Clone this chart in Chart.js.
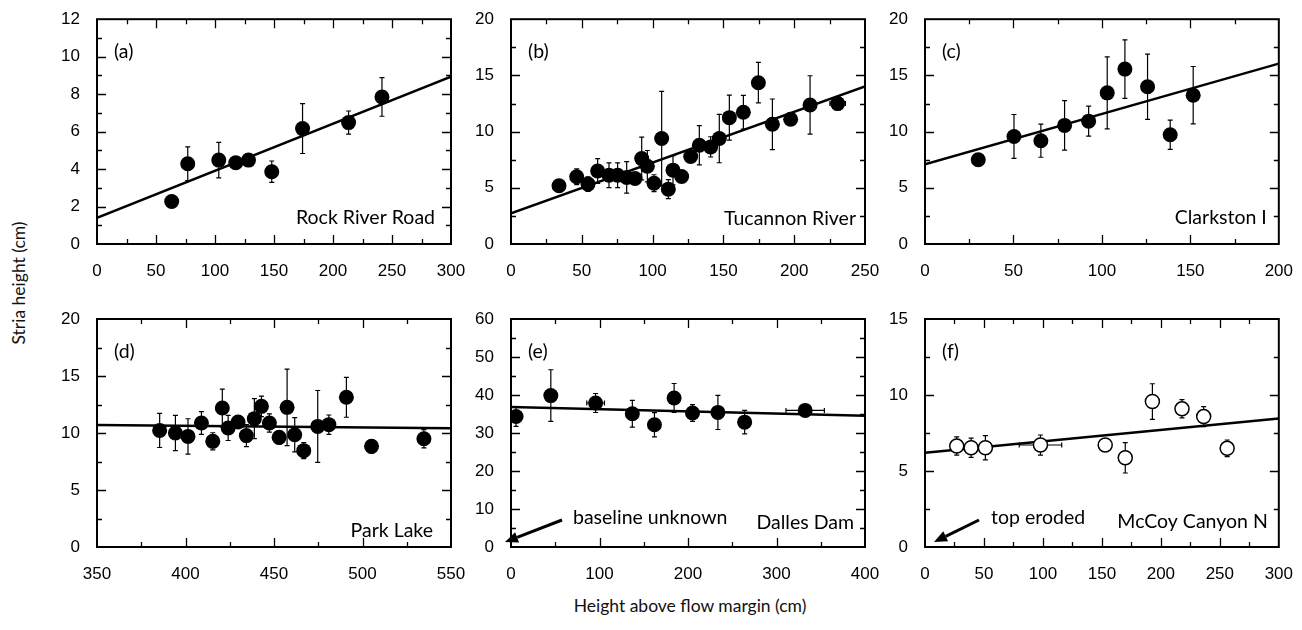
<!DOCTYPE html>
<html lang="en">
<head>
    <meta charset="UTF-8">
    <title>Stria height vs height above flow margin</title>
    <style>
        body {
            margin: 0;
            background: #fff;
        }
        #wrap {
            position: relative;
            width: 1302px;
            height: 630px;
            overflow: hidden;
        }
        #wrap canvas {
            position: absolute;
            left: 0;
            top: 0;
        }
        .axis-title {
            position: absolute;
            font-family: Lato, sans-serif;
            font-size: 17.5px;
            color: #111;
            white-space: nowrap;
        }
        #x-title {
            left: 0;
            width: 1380px;
            top: 595px;
            text-align: center;
        }
        #y-title {
            left: 18px;
            top: 283px;
            transform: translate(-50%, -50%) rotate(-90deg);
        }
    </style>
</head>
<body>
<div id="wrap">
    <div class="axis-title" id="x-title">Height above flow margin (cm)</div>
    <div class="axis-title" id="y-title">Stria height (cm)</div>
</div>

<script src="https://cdn.jsdelivr.net/npm/chart.js"></script>
<script>
    // (a) Rock River Road
    const aX = [63.3, 76.9, 103.2, 117.6, 128.4, 148.1, 174.2, 213.2, 241.5];
    const aY = [2.27, 4.28, 4.48, 4.34, 4.48, 3.86, 6.16, 6.48, 7.85];
    const aErr = [0, 0.9, 0.95, 0, 0.15, 0.57, 1.33, 0.62, 1.03];
    const aFit = [1.4, 8.93];

    // (b) Tucannon River
    const bX = [33.9, 46.4, 54.4, 61.2, 69.2, 75.3, 81.7, 87.6, 92.3, 96.3, 101, 106.4, 111.1,
                114.4, 120.5, 126.9, 133, 141, 147.1, 154.2, 164.1, 174.7, 184.6, 197.5, 211.2, 230.7];
    const bY = [5.18, 5.98, 5.33, 6.5, 6.12, 6.12, 5.92, 5.83, 7.6, 6.92, 5.41, 9.38, 4.88,
                6.57, 6.0, 7.78, 8.79, 8.64, 9.38, 11.24, 11.72, 14.35, 10.65, 11.1, 12.37, 12.49];
    const bErr = [0, 0.7, 0.65, 1.1, 1.1, 1.1, 1.4, 0, 1.9, 1.4, 0.75, 4.2, 0.85,
                  1.3, 0, 0, 1.75, 0.9, 2.15, 2.0, 1.5, 1.8, 2.25, 0, 2.6, 0];
    const bXErr = [0, 0, 0, 0, 0, 0, 0, 0, 0, 0, 0, 0, 0,
                   0, 0, 0, 0, 0, 0, 0, 0, 0, 0, 0, 0, 5.5];
    const bFit = [2.72, 14.02];

    // (c) Clarkston I
    const cX = [30.1, 50.3, 65.5, 78.9, 92.5, 103, 113, 125.8, 138.6, 151.6];
    const cY = [7.5, 9.57, 9.19, 10.55, 10.93, 13.45, 15.56, 13.99, 9.72, 13.24];
    const cErr = [0, 1.95, 1.47, 2.2, 1.33, 3.2, 2.6, 2.9, 1.3, 2.55];
    const cFit = [7.1, 16.05];

    // (d) Park Lake
    const dX = [385.4, 394.3, 401.4, 409, 415.4, 420.8, 424.1, 429.7, 434.4, 438.9, 442.9,
                447.4, 452.9, 457.4, 461.7, 466.8, 474.7, 481, 490.9, 505.1, 534.7];
    const dY = [10.23, 10.0, 9.7, 10.88, 9.27, 12.19, 10.44, 10.96, 9.77, 11.26, 12.34,
                10.88, 9.62, 12.25, 9.85, 8.45, 10.58, 10.73, 13.13, 8.83, 9.5];
    const dErr = [1.5, 1.55, 1.55, 1.0, 0.75, 1.65, 1.1, 0.5, 0.97, 1.75, 0.9,
                  0.8, 0.6, 3.35, 1.5, 0.7, 3.15, 0.85, 1.75, 0.6, 0.8];
    const dFit = [10.7, 10.41];

    // (e) Dalles Dam
    const eX = [5.7, 45, 95.6, 137.1, 162.1, 184.3, 205.1, 233.8, 264, 332.4];
    const eY = [34.36, 39.84, 37.9, 35.07, 32.16, 39.22, 35.25, 35.42, 32.86, 35.95];
    const eErr = [2.6, 6.8, 2.5, 3.5, 3.2, 3.8, 2.2, 4.5, 3.1, 0];
    const eXErr = [0, 0, 10, 0, 0, 0, 0, 0, 0, 21.7];
    const eFit = [36.84, 34.54];

    // (f) McCoy Canyon N
    const fX = [26.9, 39.1, 51.2, 97.9, 152.8, 169.8, 192.8, 217.9, 236.3, 256.2];
    const fY = [6.64, 6.53, 6.53, 6.71, 6.71, 5.87, 9.57, 9.09, 8.58, 6.49];
    const fErr = [0.6, 0.63, 0.8, 0.66, 0, 1.0, 1.17, 0.6, 0.66, 0.55];
    const fXErr = [0, 0, 0, 18, 0, 0, 0, 0, 0, 0];
    const fFit = [6.2, 8.45];

    const panels = [
        { letter: '(a)', name: 'Rock River Road', x: aX, y: aY, yErr: aErr, fit: aFit,
          xMin: 0, xMax: 300, xStep: 50, xMinor: 25, yMin: 0, yMax: 12, yStep: 2, yMinor: 1,
          area: [97, 18, 451, 244], nameDx: 16, nameDy: 26 },
        { letter: '(b)', name: 'Tucannon River', x: bX, y: bY, yErr: bErr, xErr: bXErr, fit: bFit,
          xMin: 0, xMax: 250, xStep: 50, xMinor: 25, yMin: 0, yMax: 20, yStep: 5, yMinor: 2.5,
          area: [511, 18, 865, 244], nameDx: 9, nameDy: 25 },
        { letter: '(c)', name: 'Clarkston I', x: cX, y: cY, yErr: cErr, fit: cFit,
          xMin: 0, xMax: 200, xStep: 50, xMinor: 25, yMin: 0, yMax: 20, yStep: 5, yMinor: 2.5,
          area: [925, 18, 1279, 244], nameDx: 12, nameDy: 26 },
        { letter: '(d)', name: 'Park Lake', x: dX, y: dY, yErr: dErr, fit: dFit,
          xMin: 350, xMax: 550, xStep: 50, xMinor: 25, yMin: 0, yMax: 20, yStep: 5, yMinor: 2.5,
          area: [97, 319, 451, 547], nameDx: 18, nameDy: 16 },
        { letter: '(e)', name: 'Dalles Dam', x: eX, y: eY, yErr: eErr, xErr: eXErr, fit: eFit,
          xMin: 0, xMax: 400, xStep: 100, xMinor: 50, yMin: 0, yMax: 60, yStep: 10, yMinor: 5,
          area: [511, 319, 865, 547], nameDx: 11, nameDy: 24,
          note: 'baseline unknown', noteAt: [62, -29], arrow: [51, -27, -6, -5] },
        { letter: '(f)', name: 'McCoy Canyon N', x: fX, y: fY, yErr: fErr, xErr: fXErr, fit: fFit, open: true,
          xMin: 0, xMax: 300, xStep: 50, xMinor: 25, yMin: 0, yMax: 15, yStep: 5, yMinor: 2.5,
          area: [925, 319, 1279, 547], nameDx: 11, nameDy: 25,
          note: 'top eroded', noteAt: [66, -29], arrow: [54, -27, 9, -5] }
    ];

    const Y_W = 50;
    const X_H = 40;
    const LABEL_FONT = 'Lato, "Open Sans", sans-serif';

    function isMajor(v, start, step) {
        const r = Math.abs((v - start) / step);
        return Math.abs(r - Math.round(r)) < 1e-6;
    }

    function decor(p) {
        return {
            id: 'decor',
            beforeDatasetsDraw(chart) {
                const ctx = chart.ctx;
                const xs = chart.scales.x, ys = chart.scales.y;
                ctx.save();
                ctx.strokeStyle = '#000';
                ctx.lineWidth = 1.2;
                p.x.forEach((xv, i) => {
                    const px = xs.getPixelForValue(xv);
                    const py = ys.getPixelForValue(p.y[i]);
                    const e = p.yErr ? p.yErr[i] : 0;
                    if (e > 0) {
                        const t = ys.getPixelForValue(p.y[i] + e);
                        const b = ys.getPixelForValue(p.y[i] - e);
                        ctx.beginPath();
                        ctx.moveTo(px, t); ctx.lineTo(px, b);
                        ctx.moveTo(px - 2.5, t); ctx.lineTo(px + 2.5, t);
                        ctx.moveTo(px - 2.5, b); ctx.lineTo(px + 2.5, b);
                        ctx.stroke();
                    }
                    const xe = p.xErr ? p.xErr[i] : 0;
                    if (xe > 0) {
                        const l = xs.getPixelForValue(xv - xe);
                        const r = xs.getPixelForValue(xv + xe);
                        ctx.beginPath();
                        ctx.moveTo(l, py); ctx.lineTo(r, py);
                        ctx.moveTo(l, py - 2.5); ctx.lineTo(l, py + 2.5);
                        ctx.moveTo(r, py - 2.5); ctx.lineTo(r, py + 2.5);
                        ctx.stroke();
                    }
                });
                ctx.restore();
            },
            afterDraw(chart) {
                const ctx = chart.ctx;
                const {left, top, right, bottom} = chart.chartArea;
                const xs = chart.scales.x, ys = chart.scales.y;
                ctx.save();
                ctx.strokeStyle = '#000';

                // inner ticks on all four sides, labelled ones longer
                ctx.lineWidth = 1.3;
                ctx.beginPath();
                for (let v = p.xMin + p.xMinor; v < p.xMax - 1e-6; v += p.xMinor) {
                    const px = Math.round(xs.getPixelForValue(v)) + 0.5;
                    const len = isMajor(v, p.xMin, p.xStep) ? 9 : 5;
                    ctx.moveTo(px, bottom); ctx.lineTo(px, bottom - len);
                    ctx.moveTo(px, top); ctx.lineTo(px, top + len);
                }
                for (let v = p.yMin + p.yMinor; v < p.yMax - 1e-6; v += p.yMinor) {
                    const py = Math.round(ys.getPixelForValue(v)) + 0.5;
                    const len = isMajor(v, p.yMin, p.yStep) ? 9 : 5;
                    ctx.moveTo(left, py); ctx.lineTo(left + len, py);
                    ctx.moveTo(right, py); ctx.lineTo(right - len, py);
                }
                ctx.stroke();

                // frame
                ctx.lineWidth = 2;
                ctx.strokeRect(left, top, right - left, bottom - top);

                // labels
                ctx.fillStyle = '#000';
                ctx.font = '19.5px ' + LABEL_FONT;
                ctx.textBaseline = 'middle';
                ctx.textAlign = 'left';
                ctx.fillText(p.letter, left + 17, top + 33);
                ctx.textAlign = 'right';
                ctx.fillText(p.name, right - p.nameDx, bottom - p.nameDy);

                if (p.note) {
                    ctx.textAlign = 'left';
                    ctx.fillText(p.note, left + p.noteAt[0], bottom + p.noteAt[1]);
                    const [x0, y0, x1, y1] = p.arrow;
                    const sx = left + x0, sy = bottom + y0, ex = left + x1, ey = bottom + y1;
                    const ang = Math.atan2(ey - sy, ex - sx);
                    const hl = 13, hw = 5.5;
                    const bx = ex - hl * Math.cos(ang), by = ey - hl * Math.sin(ang);
                    ctx.lineWidth = 3;
                    ctx.beginPath();
                    ctx.moveTo(sx, sy); ctx.lineTo(bx, by);
                    ctx.stroke();
                    ctx.beginPath();
                    ctx.moveTo(ex, ey);
                    ctx.lineTo(bx + hw * Math.sin(ang), by - hw * Math.cos(ang));
                    ctx.lineTo(bx - hw * Math.sin(ang), by + hw * Math.cos(ang));
                    ctx.closePath();
                    ctx.fill();
                }
                ctx.restore();
            }
        };
    }

    function tickOpts(step) {
        return {
            stepSize: step,
            autoSkip: false,
            maxRotation: 0,
            color: '#000',
            padding: 9,
            font: { family: '"Liberation Sans", Arial, sans-serif', size: 17 },
            callback: v => v
        };
    }

    function makeChart(p) {
        const canvas = document.createElement('canvas');
        canvas.width = 1302;
        canvas.height = 630;
        document.getElementById('wrap').appendChild(canvas);

        const pts = p.x.map((v, i) => ({ x: v, y: p.y[i] }));

        new Chart(canvas.getContext('2d'), {
            type: 'scatter',
            data: {
                datasets: [{
                    data: pts,
                    pointRadius: p.open ? 7 : 7.5,
                    pointBackgroundColor: p.open ? '#fff' : '#000',
                    pointBorderColor: '#000',
                    pointBorderWidth: p.open ? 1.5 : 0,
                    showLine: false
                }, {
                    type: 'line',
                    data: [{ x: p.xMin, y: p.fit[0] }, { x: p.xMax, y: p.fit[1] }],
                    borderColor: '#000',
                    borderWidth: 2.5,
                    pointRadius: 0,
                    fill: false
                }]
            },
            options: {
                responsive: false,
                animation: false,
                events: [],
                layout: {
                    padding: {
                        left: p.area[0] - Y_W,
                        top: p.area[1],
                        right: 1302 - p.area[2],
                        bottom: 630 - p.area[3] - X_H
                    }
                },
                plugins: {
                    legend: { display: false },
                    tooltip: { enabled: false }
                },
                scales: {
                    x: {
                        type: 'linear',
                        min: p.xMin,
                        max: p.xMax,
                        grid: { display: false },
                        border: { display: false },
                        ticks: tickOpts(p.xStep),
                        afterFit: s => { s.height = X_H; }
                    },
                    y: {
                        type: 'linear',
                        min: p.yMin,
                        max: p.yMax,
                        grid: { display: false },
                        border: { display: false },
                        ticks: tickOpts(p.yStep),
                        afterFit: s => { s.width = Y_W; }
                    }
                }
            },
            plugins: [decor(p)]
        });
    }

    window.onload = () => {
        panels.forEach(makeChart);
    };
</script>
</body>
</html>
